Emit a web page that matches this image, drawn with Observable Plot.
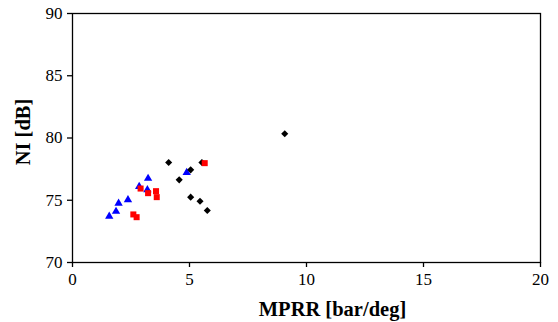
<!DOCTYPE html>
<html>
<head>
<meta charset="utf-8">
<script src="https://cdn.jsdelivr.net/npm/d3@7"></script>
<script src="https://cdn.jsdelivr.net/npm/@observablehq/plot@0.6"></script>
<style>
  html, body { margin: 0; padding: 0; background: #fff; }
  #chart svg { display: block; font-family: "Liberation Serif", "Times New Roman", serif; }
</style>
</head>
<body>
<div id="chart"></div>
<script>
// Series: black diamonds
const diamondX = [4.11, 4.56, 5.05, 5.53, 5.05, 5.45, 5.76, 9.07];
const diamondY = [78.03, 76.64, 77.44, 78.03, 75.25, 74.92, 74.18, 80.34];
// Series: red squares
const squareX = [2.91, 3.23, 3.57, 3.60, 2.60, 2.74, 5.65];
const squareY = [75.94, 75.57, 75.73, 75.25, 73.86, 73.64, 77.98];
// Series: blue triangles
const triangleX = [1.57, 1.86, 1.97, 2.37, 2.85, 3.23, 3.20, 4.88];
const triangleY = [73.70, 74.10, 74.76, 75.04, 76.10, 76.75, 75.84, 77.23];

const xTicks = [0, 5, 10, 15, 20];
const yTicks = [70, 75, 80, 85, 90];

const toRows = (xs, ys) => xs.map((x, i) => ({x, y: ys[i]}));
const diamonds = toRows(diamondX, diamondY);
const squares = toRows(squareX, squareY);
const triangles = toRows(triangleX, triangleY);

const serif = "'Liberation Serif', 'Times New Roman', serif";

const chart = Plot.plot({
  width: 558,
  height: 322,
  marginLeft: 72,
  marginRight: 18,
  marginTop: 13,
  marginBottom: 60,
  style: {fontFamily: serif, fontSize: "17px", color: "#000", background: "#fff"},
  x: {domain: [0, 20]},
  y: {domain: [70, 90]},
  marks: [
    Plot.frame({stroke: "#000", strokeWidth: 1.3}),
    Plot.axisX({ticks: xTicks, tickSize: 5, tickPadding: 5, fontSize: 17, fontFamily: serif, label: null, stroke: "#000", strokeWidth: 1.3}),
    Plot.axisY({ticks: yTicks, tickSize: 5, tickPadding: 5, fontSize: 17, fontFamily: serif, label: null, stroke: "#000", strokeWidth: 1.3}),
    Plot.text(["MPRR [bar/deg]"], {frameAnchor: "bottom", textAnchor: "middle", dx: 26, dy: 53, fontSize: 20.5, fontWeight: "bold", fontFamily: serif}),
    Plot.text(["NI [dB]"], {frameAnchor: "left", textAnchor: "middle", dx: -49, dy: -6, rotate: -90, fontSize: 20.5, fontWeight: "bold", fontFamily: serif}),
    Plot.dot(triangles, {x: "x", y: "y", symbol: "triangle", fill: "#0000ff", r: 3.1}),
    Plot.dot(diamonds, {x: "x", y: "y", symbol: "diamond2", fill: "#000", r: 3.2}),
    Plot.dot(squares, {x: "x", y: "y", symbol: "square", fill: "#ff0000", r: 3.4})
  ]
});
document.getElementById("chart").append(chart);
</script>
</body>
</html>
